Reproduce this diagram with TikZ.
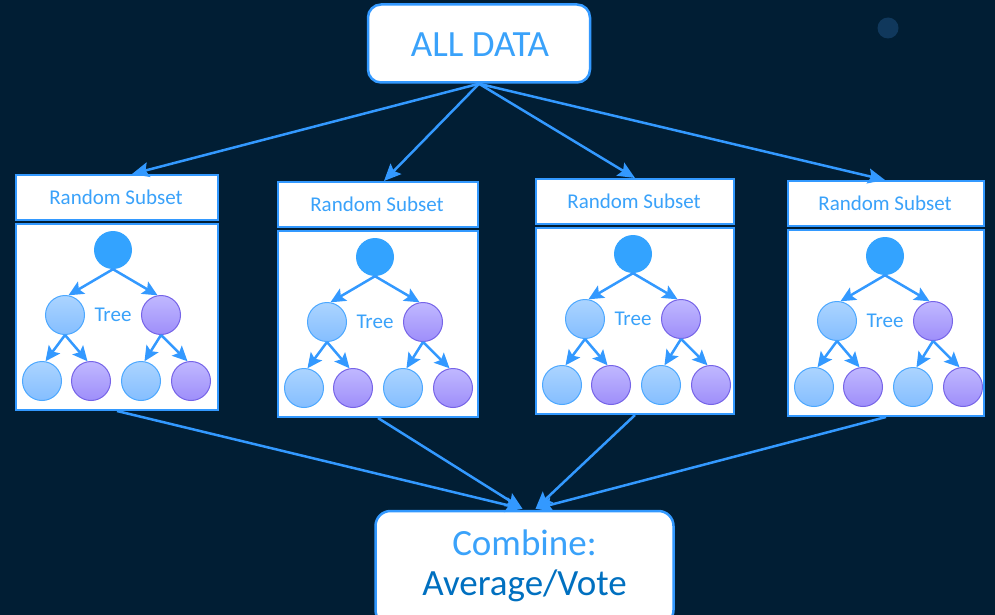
\documentclass[tikz,border=0pt]{standalone}
\usepackage{fontspec}
\setmainfont{Carlito}
\usetikzlibrary{arrows.meta,calc}

\definecolor{bg}{RGB}{1,30,52}
\definecolor{dot}{RGB}{16,56,92}
\definecolor{edge}{RGB}{51,153,255}
\definecolor{txt}{RGB}{58,162,250}
\definecolor{dtxt}{RGB}{0,112,192}
\definecolor{rootc}{RGB}{51,163,255}
\definecolor{lbTop}{RGB}{172,212,255}
\definecolor{lbBot}{RGB}{132,190,255}
\definecolor{lbEdge}{RGB}{76,168,255}
\definecolor{puTop}{RGB}{192,184,255}
\definecolor{puBot}{RGB}{158,142,250}
\definecolor{puEdge}{RGB}{118,100,232}

\tikzset{
  bigbox/.style={draw=edge, line width=2.5pt, fill=white, rounded corners=13pt,
    inner sep=0pt},
  panelbox/.style={draw=edge, line width=2pt, fill=white, inner sep=0pt},
  flow/.style={draw=edge, line width=2.5pt,
    -{Stealth[length=17pt,width=15pt,inset=3pt]}},
  branch/.style={draw=edge, line width=2.5pt,
    -{Stealth[length=15pt,width=14pt,inset=3pt]}},
  rootnode/.style={circle, fill=rootc, minimum size=38pt, inner sep=0pt},
  leafL/.style={circle, draw=lbEdge, line width=1pt, top color=lbTop,
    bottom color=lbBot, minimum size=39pt, inner sep=0pt},
  leafP/.style={circle, draw=puEdge, line width=1pt, top color=puTop,
    bottom color=puBot, minimum size=39pt, inner sep=0pt},
  smalltxt/.style={text=txt, font=\fontsize{21}{25}\selectfont, inner sep=0pt},
  bigtxt/.style={font=\fontsize{37}{44}\selectfont, inner sep=0pt},
}

\begin{document}
\begin{tikzpicture}[x=1pt,y=-1pt]
\fill[bg] (0,0) rectangle (995,615);
\useasboundingbox (0,0) rectangle (995,615);

% faint dot in the top right corner
\fill[dot] (888,28) circle (10.5pt);

% source box
\node[bigbox, minimum width=222pt, minimum height=78pt] (all) at (479,43.5) {};
\node[bigtxt, text=txt] (allt) at (480,45) {ALL DATA};

% result box (runs off the lower edge)
\node[bigbox, rounded corners=15pt, minimum width=298pt, minimum height=114pt]
  (comb) at (524.5,568) {};
\node[bigtxt, text=txt] (comb1) at (524.5,543) {Combine:};
\node[bigtxt, text=dtxt] (comb2) at (524.5,586) {Average/Vote};
\coordinate (inL) at ($(comb.north)+(-2,-1)$);
\coordinate (inR) at ($(comb.north)+(11,-1)$);

% the four bagged trees: left, right, top of subset box, arrow offset, merge point
\foreach \L/\R/\T/\dx/\m [count=\i] in
  {15/217/174/15/inL, 277/477/181/6/inL, 535/733/178/0/inR, 787/983/180/-1/inR}{
  \pgfmathsetmacro{\W}{\R-\L}
  \pgfmathsetmacro{\C}{(\L+\R)/2}
  \pgfmathsetmacro{\Tt}{\T+49}
  \node[panelbox, minimum width=\W pt, minimum height=45pt, anchor=north west]
    (s\i) at (\L,\T) {};
  \node[smalltxt] (st\i) at (\C,\T+23.5) {Random Subset};
  \node[panelbox, minimum width=\W pt, minimum height=186pt, anchor=north west]
    (t\i) at (\L,\Tt) {};

  \node[rootnode] (r\i) at (\L+98,\Tt+27) {};
  \node[leafL] (a\i) at (\L+50,\Tt+92) {};
  \node[leafP] (b\i) at (\L+146,\Tt+92) {};
  \node[smalltxt] (tr\i) at (\L+98,\Tt+92) {Tree};
  \node[leafL] (c\i) at (\L+27,\Tt+158) {};
  \node[leafP] (d\i) at (\L+76,\Tt+158) {};
  \node[leafL] (e\i) at (\L+126,\Tt+158) {};
  \node[leafP] (f\i) at (\L+176,\Tt+158) {};

  \draw[branch] (r\i.south) -- (a\i.80);
  \draw[branch] (r\i.south) -- (b\i.100);
  \draw[branch] (a\i.south) -- (c\i.80);
  \draw[branch] (a\i.south) -- (d\i.100);
  \draw[branch] (b\i.south) -- (e\i.80);
  \draw[branch] (b\i.south) -- (f\i.100);

  \draw[flow] (all.south) -- ($(s\i.north)+(\dx,0)$);
  \draw[flow] (t\i.south) -- (\m);
}
\end{tikzpicture}
\end{document}
